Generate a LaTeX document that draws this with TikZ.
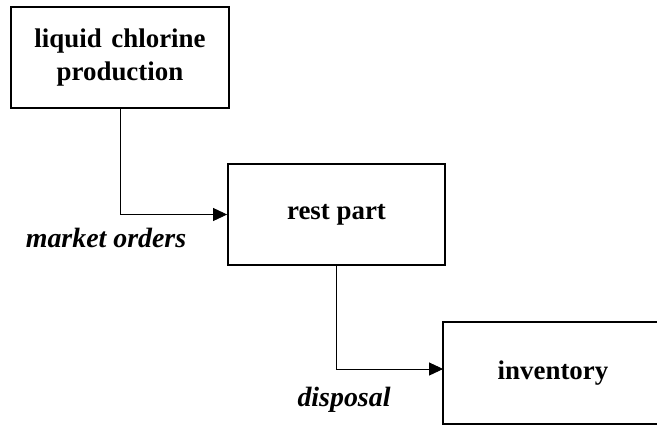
\documentclass[tikz,border=0pt]{standalone}
\usepackage{fontspec}
\setmainfont{Liberation Serif}
\usetikzlibrary{positioning,arrows.meta}

\tikzset{
    stagebox/.style={draw, line width=1.8bp, minimum width=218bp, minimum height=101bp,
        align=center, font=\fontsize{27}{33}\selectfont\bfseries},
    openbox/.style={stagebox, draw=none},
    boxline/.style={line width=1.8bp},
    flow/.style={line width=0.9bp, -{Triangle[length=14bp, width=13bp]}},
    flowlabel/.style={font=\fontsize{28}{30}\selectfont\bfseries\itshape}
}

\begin{document}
\begin{tikzpicture}[x=1bp, y=-1bp]
    \useasboundingbox (0,0) rectangle (657,425);
    \clip (0,0) rectangle (657,425);
    \node[stagebox] (chlorine) at (120,57.5) {liquid\hspace{3bp} chlorine\\production};
    \node[stagebox, minimum width=217bp] (rest) at (336.5,214.5) {rest part};
    \node[openbox, minimum height=100bp] (inventory) at (553,373) {inventory};
    % the right side of this box is cut off by the page edge
    \draw[boxline] (inventory.north east) -- (inventory.north west)
        -- (inventory.south west) -- (inventory.south east);
    \draw[flow] (chlorine.south) |- (rest.west);
    \draw[flow] (rest.south) |- ([yshift=4bp]inventory.west);
    \node[flowlabel] (orders) at (106,238) {market orders};
    \node[flowlabel] (disposal) at (344,400) {disposal};
\end{tikzpicture}
\end{document}
